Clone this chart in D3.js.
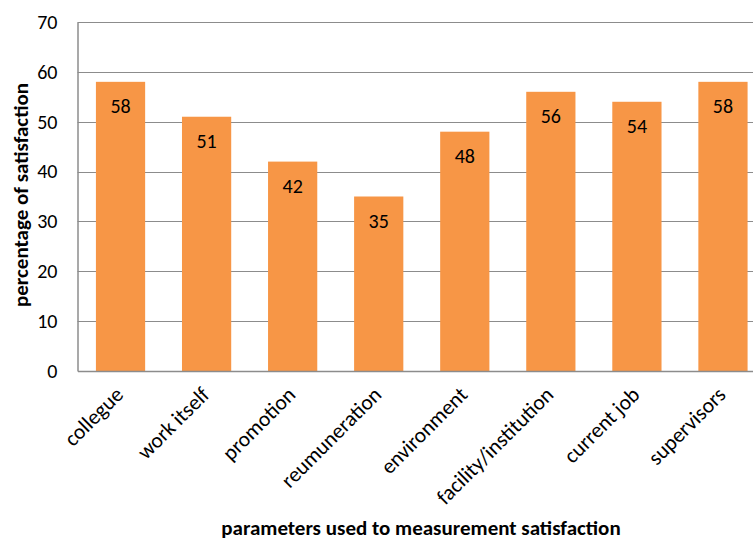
<!DOCTYPE html>
<html>
<head>
<meta charset="utf-8">
<script src="https://cdn.jsdelivr.net/npm/d3@7"></script>
<style>
  body { margin: 0; background: #fff; }
  svg { font-family: Calibri, Carlito, Lato, sans-serif; }
</style>
</head>
<body>
<div id="chart-area"></div>
<script>
// data
var categories = ["collegue", "work itself", "promotion", "reumuneration",
    "environment", "facility/institution", "current job", "supervisors"];
var values = [58, 51, 42, 35, 48, 56, 54, 58];
var yTicks = [0, 10, 20, 30, 40, 50, 60, 70];

// Margins
var margin = { left: 77.5, right: -13, top: 22, bottom: 171 },
    width = 753 - margin.left - margin.right,
    height = 542 - margin.top - margin.bottom;

var svg = d3.select("#chart-area").append("svg")
    .attr("width", 753)
    .attr("height", 542);
var g = svg.append("g")
    .attr("transform", "translate(" + margin.left + "," + margin.top + ")");

// scales
var x = d3.scaleBand().domain(categories).range([0, width]).paddingInner(0.428).paddingOuter(0.214);
var y = d3.scaleLinear().domain([0, 70]).range([height, 0]);

// gridlines
g.selectAll(".grid").data(yTicks.slice(1)).enter().append("line")
    .attr("class", "grid")
    .attr("x1", 0).attr("x2", width)
    .attr("y1", function(d){ return Math.round(y(d)) + 0.5; })
    .attr("y2", function(d){ return Math.round(y(d)) + 0.5; })
    .attr("stroke", "#8c8c8c")
    .attr("stroke-width", 1);

// bars
g.selectAll(".bar").data(values).enter().append("rect")
    .attr("class", "bar")
    .attr("x", function(d, i){ return x(categories[i]); })
    .attr("y", function(d){ return y(d); })
    .attr("width", x.bandwidth())
    .attr("height", function(d){ return height - y(d); })
    .attr("fill", "#F79646");

// value labels
g.selectAll(".val").data(values).enter().append("text")
    .attr("class", "val")
    .attr("x", function(d, i){ return x(categories[i]) + x.bandwidth() / 2; })
    .attr("y", function(d){ return y(d) + 31; })
    .attr("text-anchor", "middle")
    .attr("font-size", "20px")
    .attr("fill", "#000")
    .text(function(d){ return d; });

// Y axis
var yAxis = g.append("g").call(d3.axisLeft(y).tickValues(yTicks).tickSize(0).tickPadding(20));
yAxis.select(".domain").attr("stroke", "#8c8c8c").attr("stroke-width", 1.5);
yAxis.selectAll("text").attr("font-size", "20px").attr("fill", "#000")
    .attr("font-family", "Calibri, Carlito, Lato, sans-serif");

// X axis
var xAxis = g.append("g")
    .attr("transform", "translate(0," + height + ")")
    .call(d3.axisBottom(x).tickSize(0).tickFormat(""));
xAxis.select(".domain").attr("stroke", "#8c8c8c").attr("stroke-width", 1.5);

g.selectAll(".xlab").data(categories).enter().append("text")
    .attr("class", "xlab")
    .attr("transform", function(d){
        return "translate(" + (x(d) + x.bandwidth() / 2 + 4) + "," + (height + 25) + ") rotate(-45)";
    })
    .attr("text-anchor", "end")
    .attr("font-size", "21.5px")
    .attr("fill", "#000")
    .text(function(d){ return d; });

// Axis titles
svg.append("text")
    .attr("x", 421)
    .attr("y", 535)
    .attr("text-anchor", "middle")
    .attr("font-size", "21px")
    .attr("font-weight", "bold")
    .text("parameters used to measurement satisfaction");

svg.append("text")
    .attr("transform", "translate(28,195) rotate(-90)")
    .attr("text-anchor", "middle")
    .attr("font-size", "21px")
    .attr("font-weight", "bold")
    .text("percentage of satisfaction");
</script>
</body>
</html>
